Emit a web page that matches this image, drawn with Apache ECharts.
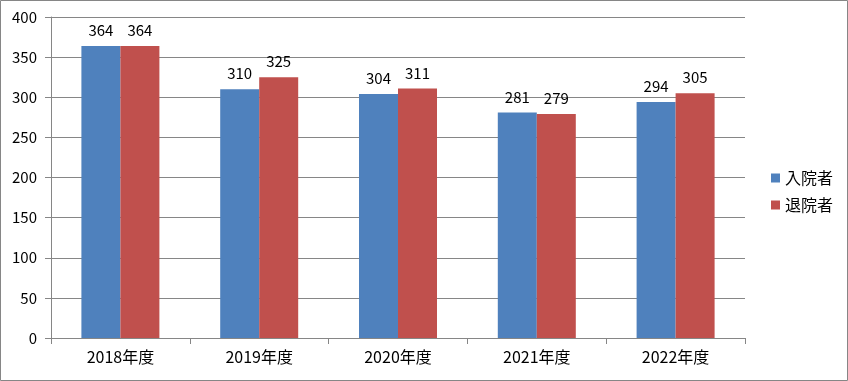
<!DOCTYPE html>
<html><head><meta charset="utf-8">
<script src="https://cdn.jsdelivr.net/npm/echarts@6/dist/echarts.min.js"></script>
<style>html,body{margin:0;padding:0;background:#fff}#c{width:848px;height:381px}</style>
</head><body><div id="c"></div>
<script>
const categories = ['2018年度','2019年度','2020年度','2021年度','2022年度'];
const admissions = [364, 310, 304, 281, 294];
const discharges = [364, 325, 311, 279, 305];
const seriesNames = ['入院者','退院者'];
const yMin = 0, yMax = 400, yStep = 50;

const font = '"Noto Sans CJK JP", "Noto Sans", sans-serif';
const chart = echarts.init(document.getElementById('c'), null, {renderer:'canvas'});
const lbl = {show:true, position:'top', distance:8, color:'#000', fontSize:15, fontFamily:font};
chart.setOption({
  animation:false,
  textStyle:{fontFamily:font},
  graphic:[{type:'rect', shape:{x:0.5,y:0.5,width:847,height:380}, style:{fill:null, stroke:'#868686', lineWidth:1}, silent:true}],
  grid:{left:51, right:103, top:17, bottom:43, containLabel:false},
  legend:{orient:'vertical', left:766, top:165, itemWidth:9, itemHeight:9, itemGap:11, icon:'rect',
    textStyle:{fontSize:16, color:'#000', fontFamily:font}, data:seriesNames},
  xAxis:{type:'category', data:categories, boundaryGap:true,
    axisLine:{lineStyle:{color:'#868686'}},
    axisTick:{show:true, length:6, lineStyle:{color:'#868686'}},
    axisLabel:{color:'#000', fontSize:16, margin:11, fontFamily:font}},
  yAxis:{type:'value', min:yMin, max:yMax, interval:yStep,
    axisLine:{show:true, lineStyle:{color:'#868686'}},
    axisTick:{show:true, length:6, lineStyle:{color:'#868686'}},
    splitLine:{lineStyle:{color:'#868686'}},
    axisLabel:{color:'#000', fontSize:15, margin:14, fontFamily:font}},
  series:[
    {name:seriesNames[0], type:'bar', data:admissions, barWidth:39, barGap:'0%', itemStyle:{color:'#4F81BD'}, label:lbl},
    {name:seriesNames[1], type:'bar', data:discharges, barWidth:39, barGap:'0%', itemStyle:{color:'#C0504D'}, label:lbl}
  ]
});
</script></body></html>
